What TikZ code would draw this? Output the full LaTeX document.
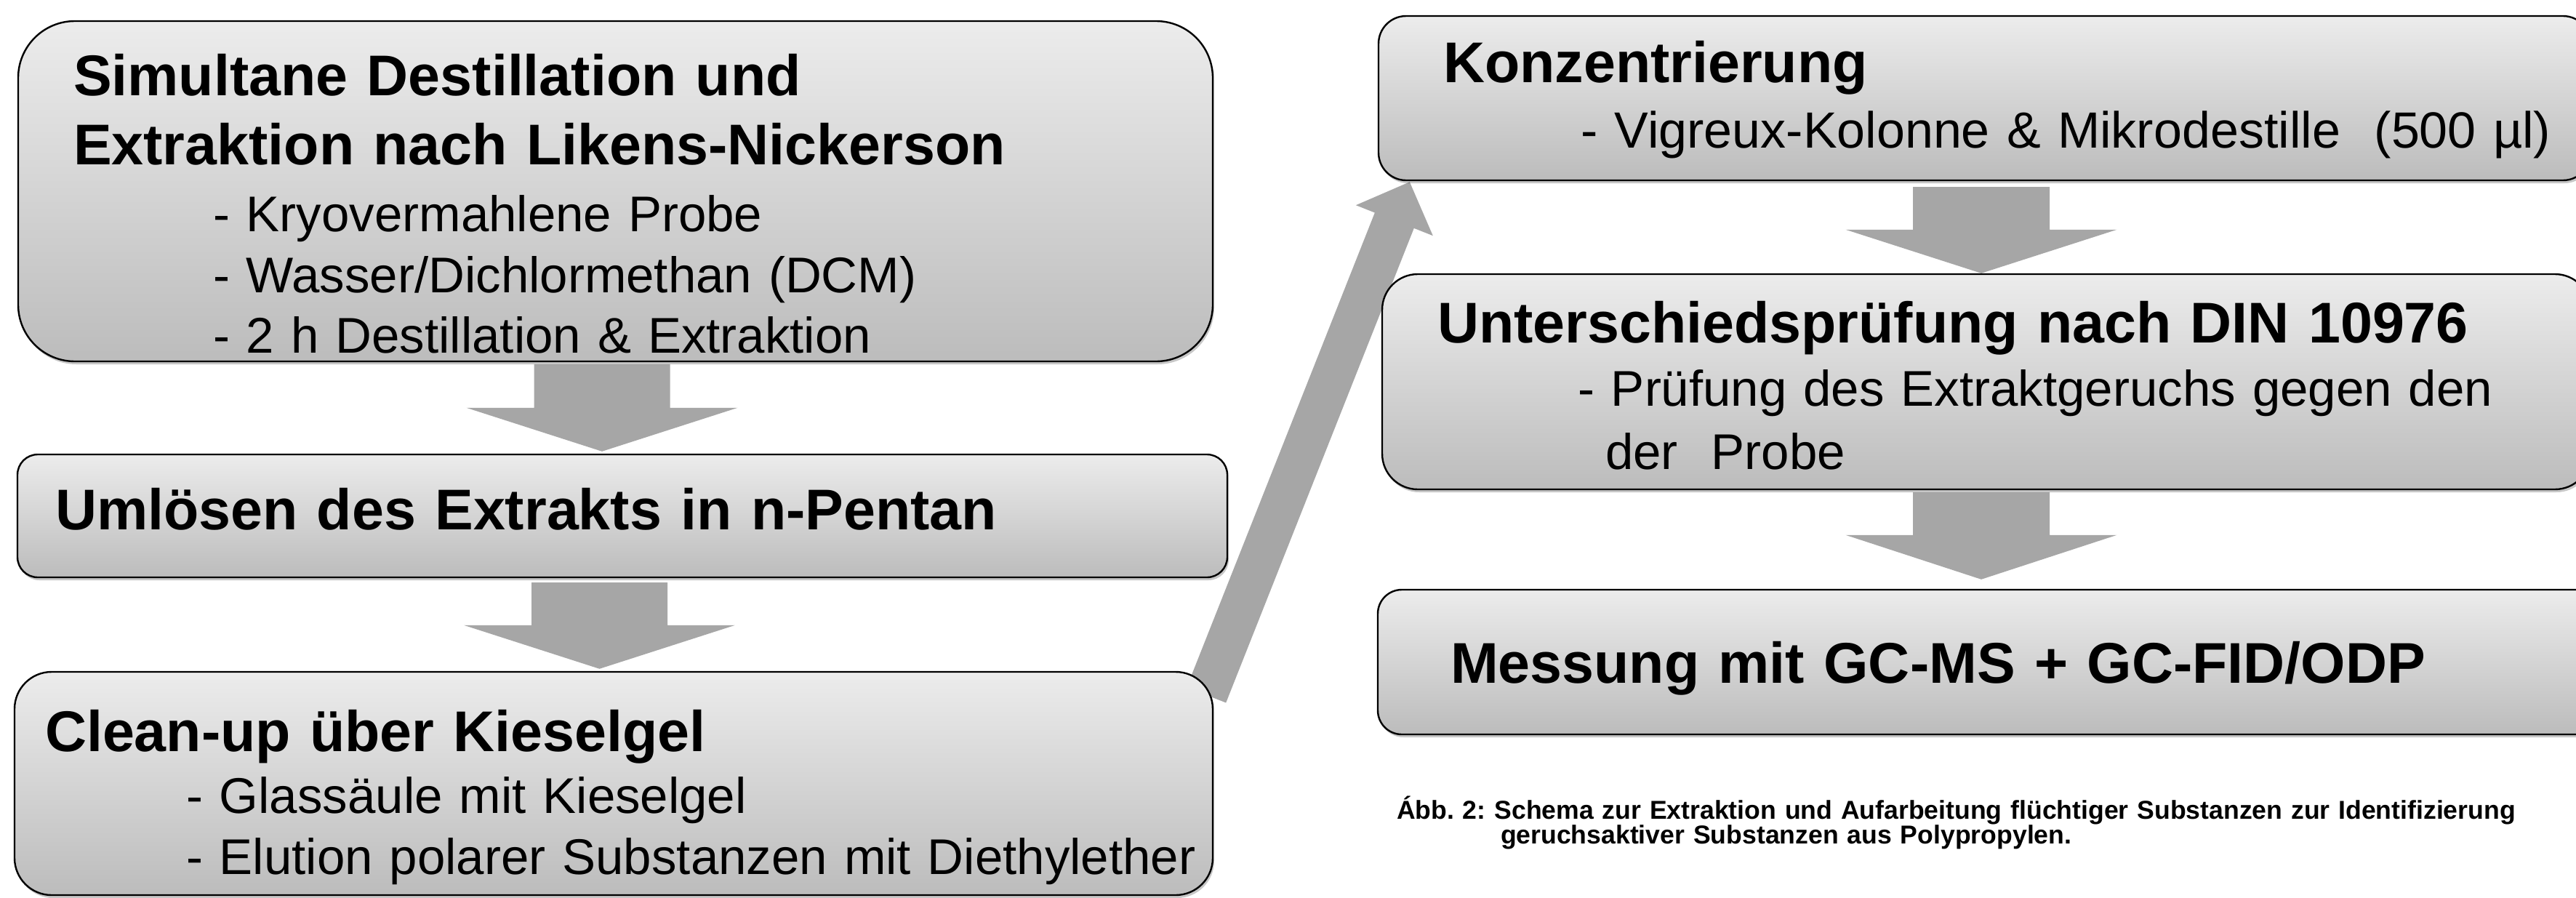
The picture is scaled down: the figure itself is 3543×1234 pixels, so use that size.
\documentclass[tikz,border=0pt]{standalone}
\usepackage{fontspec}
\setmainfont{Liberation Sans}
\usetikzlibrary{calc,shadows,backgrounds}
\definecolor{boxtop}{RGB}{236,236,236}
\definecolor{boxbot}{RGB}{188,188,188}
\definecolor{arrowgray}{RGB}{166,166,166}

% block arrow: tail, tip, half stem width, half head width, head length
\newcommand{\blockarrow}[5]{%
  \coordinate (ba-t) at #1;
  \coordinate (ba-h) at #2;
  \coordinate (ba-n) at ($(ba-h)!#5!(ba-t)$);
  \fill[flowarrow] ($(ba-t)!#3!90:(ba-h)$) -- ($(ba-n)!#3!90:(ba-h)$)
    -- ($(ba-n)!#4!90:(ba-h)$) -- (ba-h) -- ($(ba-n)!#4!-90:(ba-h)$)
    -- ($(ba-n)!#3!-90:(ba-h)$) -- ($(ba-t)!#3!-90:(ba-h)$) -- cycle;
}

\begin{document}
\frenchspacing
\begin{tikzpicture}[
    x=1pt, y=-1pt,
    stepbox/.style={rectangle, draw=black, line width=2.4pt,
        top color=boxtop, bottom color=boxbot,
        drop shadow={shadow xshift=2pt, shadow yshift=-4pt, opacity=0.22, fill=black}},
    flowarrow/.style={fill=arrowgray},
    titletxt/.style={font=\bfseries\fontsize{79}{95}\selectfont, anchor=base west,
        inner sep=0pt, align=left, text width=1640pt},
    itemtxt/.style={font=\fontsize{69}{83.5}\selectfont, anchor=base west,
        inner sep=0pt, align=left, text width=1640pt},
    captxt/.style={font=\bfseries\fontsize{35.6}{34}\selectfont, anchor=base west,
        inner sep=0pt, align=left, text width=1640pt},
]
\useasboundingbox (0,0) rectangle (3543,1234);
\clip (0,0) rectangle (3543,1234);

% === Left column ===
\node[stepbox, minimum width=1643pt, minimum height=468pt, rounded corners=78pt]
    (sde) at (846.5,263) {};
\node[stepbox, minimum width=1664pt, minimum height=169pt, rounded corners=28pt]
    (uml) at (856,709.5) {};
\node[stepbox, minimum width=1648pt, minimum height=307pt, rounded corners=51pt]
    (cleanup) at (844,1077.5) {};

% === Right column ===
\node[stepbox, minimum width=1667pt, minimum height=226pt, rounded corners=38pt]
    (konz) at (2729.5,135) {};
\node[stepbox, minimum width=1662pt, minimum height=296pt, rounded corners=49pt]
    (diff) at (2732,525) {};
\node[stepbox, minimum width=1695pt, minimum height=199pt, rounded corners=33pt]
    (mess) at (2742.5,910.5) {};

% === Box texts ===
\node[titletxt] (sde-title) at ($(sde.north west)+(77,104)$)
    {Simultane Destillation und\\Extraktion nach Likens-Nickerson};
\node[itemtxt] (sde-items) at ($(sde.north west)+(269,291)$)
    {- Kryovermahlene Probe\\- Wasser/Dichlormethan (DCM)\\- 2 h Destillation \& Extraktion};

\node[titletxt] (uml-title) at ($(uml.north west)+(53,105)$)
    {Umlösen des Extrakts in n-Pentan};

\node[titletxt] (cleanup-title) at ($(cleanup.north west)+(43,111)$)
    {Clean-up über Kieselgel};
\node[itemtxt] (cleanup-items) at ($(cleanup.north west)+(237,196)$)
    {- Glassäule mit Kieselgel\\- Elution polarer Substanzen mit Diethylether};

\node[titletxt] (konz-title) at ($(konz.north west)+(90,93)$)
    {Konzentrierung};
\node[itemtxt, font=\fontsize{70}{83.5}\selectfont] (konz-items)
    at ($(konz.north west)+(279,183)$)
    {- Vigreux-Kolonne \& Mikrodestille\ \ (500 µl)};

\node[titletxt] (diff-title) at ($(diff.north west)+(77,96)$)
    {Unterschiedsprüfung nach DIN 10976};
\node[itemtxt] (diff-items) at ($(diff.north west)+(270,183)$)
    {- Prüfung des Extraktgeruchs gegen den\\[3.5pt]\hspace*{38pt}der\ \ Probe};

\node[titletxt] (mess-title) at ($(mess.north west)+(101,130)$)
    {Messung mit GC-MS + GC-FID/ODP};

% caption
\node[captxt] (caption) at ($(mess.south west)+(27,115)$)
    {Ább. 2: Schema zur Extraktion und Aufarbeitung flüchtiger Substanzen zur Identifizierung\\
     \hspace*{143pt}geruchsaktiver Substanzen aus Polypropylen.};

% === Block arrows ===
\begin{scope}[on background layer]
    \coordinate (a1t) at ($(sde.south)+(-18.5,3)$);
    \coordinate (a1h) at ($(a1t |- uml.north)+(0,-3)$);
    \blockarrow{(a1t)}{(a1h)}{93.5pt}{186.5pt}{60pt}

    \coordinate (a2t) at ($(uml.south)+(-31.5,6)$);
    \coordinate (a2h) at ($(a2t |- cleanup.north)+(0,-3)$);
    \blockarrow{(a2t)}{(a2h)}{93.5pt}{186.5pt}{60pt}

    \coordinate (a3t) at ($(konz.south)+(-4.5,8)$);
    \coordinate (a3h) at (a3t |- diff.north);
    \blockarrow{(a3t)}{(a3h)}{94pt}{186.5pt}{60pt}

    \coordinate (a4t) at ($(diff.south)+(-7,3)$);
    \coordinate (a4h) at ($(a4t |- mess.north)+(0,-13)$);
    \blockarrow{(a4t)}{(a4h)}{94pt}{186.5pt}{61pt}

    % back to the top of the right column
    \coordinate (a5t) at ($(cleanup.north east)+(-10,33)$);
    \coordinate (a5h) at ($(konz.south west)+(44,1)$);
    \blockarrow{(a5t)}{(a5h)}{29pt}{57pt}{57pt}
\end{scope}

\end{tikzpicture}
\end{document}
